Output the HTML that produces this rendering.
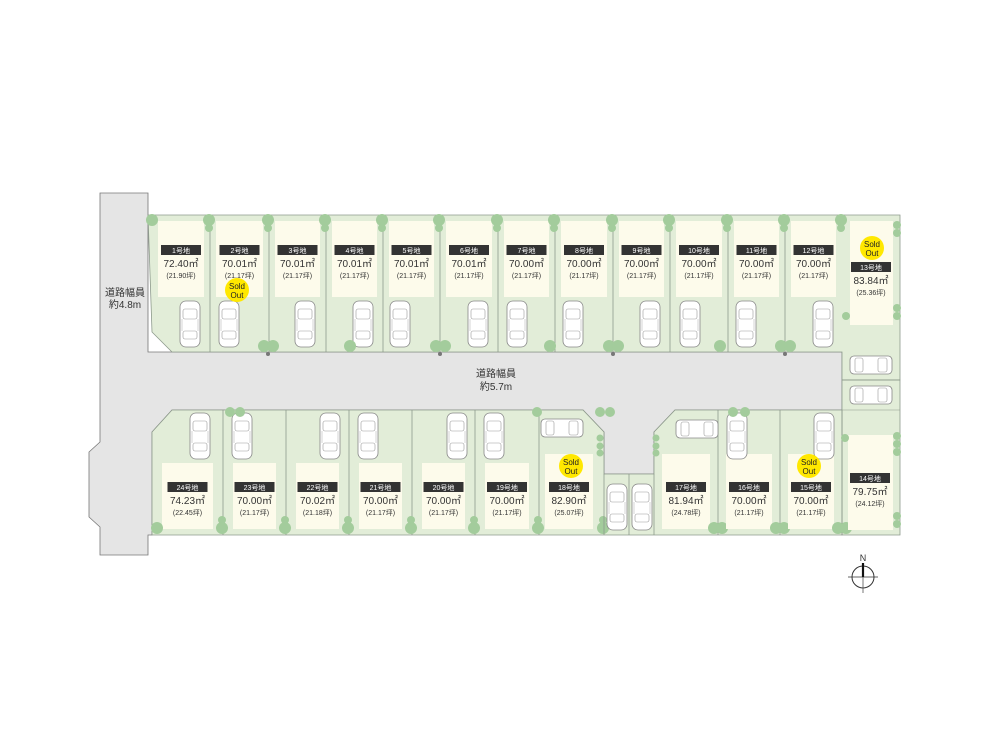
<!DOCTYPE html>
<html><head><meta charset="utf-8"><style>
html,body{margin:0;padding:0;background:#fff;width:1000px;height:750px;overflow:hidden}
svg text{font-family:"Liberation Sans","Noto Sans CJK JP",sans-serif}
</style></head><body>
<svg id="s" width="1000" height="750" viewBox="0 0 1000 750" xmlns="http://www.w3.org/2000/svg">
<defs>
<g id="carv">
<rect x="-10" y="0" width="20" height="46" rx="6" fill="#fff" stroke="#888" stroke-width="0.8"/>
<rect x="-7" y="8" width="14" height="10" rx="2" fill="#fff" stroke="#999" stroke-width="0.6"/>
<rect x="-7" y="30" width="14" height="8" rx="2" fill="#fff" stroke="#999" stroke-width="0.6"/>
<line x1="-8" y1="18" x2="-8" y2="30" stroke="#aaa" stroke-width="0.5"/>
<line x1="8" y1="18" x2="8" y2="30" stroke="#aaa" stroke-width="0.5"/>
</g>
<g id="carh">
<rect x="0" y="-9" width="42" height="18" rx="4" fill="#fff" stroke="#888" stroke-width="0.8"/>
<rect x="28" y="-7" width="9" height="14" rx="2" fill="#fff" stroke="#999" stroke-width="0.6"/>
<rect x="5" y="-7" width="8" height="14" rx="2" fill="#fff" stroke="#999" stroke-width="0.6"/>
</g>
</defs>
<!-- roads -->
<path d="M100,193 L148,193 L148,352 L842,352 L842,410 L675,410 L654,432 L654,474 L604,474 L604,432 L583,410 L172,410 L152,432 L152,535 L148,535 L148,555 L100,555 L100,527 L89,517 L89,452 L100,442 Z" fill="#e5e5e5" stroke="#777" stroke-width="0.8"/>
<!-- top lots area -->
<path d="M148,215 L900,215 L900,380 L842,380 L842,352 L172,352 L152,332 Z" fill="#e2edd8" stroke="#8d9a8c" stroke-width="0.8"/>
<!-- right column -->
<path d="M842,380 L900,380 L900,535 L842,535 Z" fill="#e2edd8" stroke="#8d9a8c" stroke-width="0.8"/>
<line x1="842" y1="410" x2="900" y2="410" stroke="#8d9a8c" stroke-width="0.6"/>
<!-- bottom lots -->
<path d="M172,410 L583,410 L604,432 L604,474 L654,474 L654,432 L675,410 L842,410 L842,535 L152,535 L152,432 Z" fill="#e2edd8" stroke="#8d9a8c" stroke-width="0.8"/>
<g id="dyn"></g>
<text x="125" y="296" font-size="10" text-anchor="middle" fill="#333">道路幅員</text>
<text x="125" y="308" font-size="10" text-anchor="middle" fill="#333">約4.8m</text>
<text x="496" y="377" font-size="10" text-anchor="middle" fill="#333">道路幅員</text>
<text x="496" y="390" font-size="10" text-anchor="middle" fill="#333">約5.7m</text>
<!-- compass -->
<text x="863" y="561" font-size="9" text-anchor="middle" fill="#333">N</text>
<circle cx="863" cy="577" r="11" fill="none" stroke="#333" stroke-width="1"/>
<line x1="848" y1="577" x2="878" y2="577" stroke="#333" stroke-width="0.8"/>
<line x1="863" y1="563" x2="863" y2="577" stroke="#111" stroke-width="2.2"/>
<line x1="863" y1="577" x2="863" y2="593" stroke="#555" stroke-width="0.8"/>
</svg>
<script>
const NS="http://www.w3.org/2000/svg",g=document.getElementById("dyn");
function el(t,a,txt){const e=document.createElementNS(NS,t);for(const k in a)e.setAttribute(k,a[k]);if(txt!=null)e.textContent=txt;g.appendChild(e);return e;}
function line(x1,y1,x2,y2){el("line",{x1,y1,x2,y2,stroke:"#8d9a8c","stroke-width":0.8});}
function tree(x,y,r){el("circle",{cx:x,cy:y,r:r||6,fill:"#a3cc9c"});}
function label(cx,y,n,a,t){
 el("rect",{x:cx-20,y:y,width:40,height:10,fill:"#333"});
 el("text",{x:cx,y:y+8,"font-size":7,"text-anchor":"middle",fill:"#fff"},n+"号地");
 el("text",{x:cx,y:y+22,"font-size":10,"text-anchor":"middle",fill:"#333"},a+"㎡");
 el("text",{x:cx,y:y+33,"font-size":7,"text-anchor":"middle",fill:"#333"},"("+t+"坪)");
}
function sold(x,y){el("circle",{cx:x,cy:y,r:12,fill:"#ffe800"});
 el("text",{x:x,y:y-1,"font-size":8,"text-anchor":"middle",fill:"#222","font-family":"Liberation Serif,serif"},"Sold");
 el("text",{x:x,y:y+8,"font-size":8,"text-anchor":"middle",fill:"#222","font-family":"Liberation Serif,serif"},"Out");}
// top row
const td=[152,210,269,326,383,440,498,555,613,670,728,785,842];
const ta=["72.40","70.01","70.01","70.01","70.01","70.01","70.00","70.00","70.00","70.00","70.00","70.00"];
const tt=["21.90","21.17","21.17","21.17","21.17","21.17","21.17","21.17","21.17","21.17","21.17","21.17"];
const tc=[190,229,305,363,400,478,517,573,650,690,746,823];
for(let i=1;i<12;i++)line(td[i],215,td[i],352);
for(let i=0;i<12;i++){const l=td[i]+(i==0?6:6),r=td[i+1]-6;
 el("rect",{x:l,y:221,width:r-l,height:76,fill:"#fdfbeb"});
 label((l+r)/2,245,i+1,ta[i],tt[i]);
 el("use",{href:"#carv",x:tc[i],y:301});
 tree(td[i+1]-1,220);tree(td[i+1]-1,228,4);}
tree(152,220);
[268,440,613,785].forEach(x=>{tree(x-4,346);tree(x+5,346);el("circle",{cx:x,cy:354,r:2,fill:"#777"});});
[350,550,720].forEach(x=>tree(x,346));
// lot 13
el("rect",{x:850,y:221,width:43,height:104,fill:"#fdfbeb"});
label(871,262,13,"83.84","25.36");
el("use",{href:"#carh",x:850,y:365});el("use",{href:"#carh",x:850,y:395});
line(842,380,900,380);
[225,233,308,316].forEach(y=>tree(897,y,4));tree(846,316,4);
// bottom row
const bd=[152,223,286,349,412,475,539,604];
const ba=["74.23","70.00","70.02","70.00","70.00","70.00","82.90"],bt=["22.45","21.17","21.18","21.17","21.17","21.17","25.07"],bn=[24,23,22,21,20,19,18];
const bc=[200,242,330,368,457,494];
for(let i=1;i<7;i++)line(bd[i],410,bd[i],535);
for(let i=0;i<7;i++){const l=bd[i]+10,r=bd[i+1]-10;
 if(i<6){el("rect",{x:l,y:463,width:r-l,height:66,fill:"#fdfbeb"});label((l+r)/2,482,bn[i],ba[i],bt[i]);el("use",{href:"#carv",x:bc[i],y:413});}
 tree(bd[i+1]-1,528);tree(bd[i+1]-1,520,4);}
tree(157,528);
el("rect",{x:545,y:454,width:48,height:75,fill:"#fdfbeb"});label(569,482,18,"82.90","25.07");
el("use",{href:"#carh",x:541,y:428});
line(604,474,604,535);line(629,474,629,535);line(654,474,654,535);
el("use",{href:"#carv",x:617,y:484});el("use",{href:"#carv",x:642,y:484});
// 17,16,15
const rd=[654,718,780,842],rn=[17,16,15],ra=["81.94","70.00","70.00"],rt=["24.78","21.17","21.17"];
for(let i=0;i<3;i++){line(rd[i+1],410,rd[i+1],535);const l=rd[i]+8,r=rd[i+1]-8;
 el("rect",{x:l,y:454,width:r-l,height:75,fill:"#fdfbeb"});label((l+r)/2,482,rn[i],ra[i],rt[i]);tree(rd[i+1]-4,528);tree(rd[i+1]+4,528);}
el("use",{href:"#carh",x:676,y:429});
el("use",{href:"#carv",x:737,y:413});el("use",{href:"#carv",x:824,y:413});
el("rect",{x:848,y:435,width:45,height:95,fill:"#fdfbeb"});label(870,473,14,"79.75","24.12");
[436,444,452,516,524].forEach(y=>tree(897,y,4));tree(845,438,4);
[600,610,230,240].forEach(x=>tree(x,412,5));tree(537,412,5);tree(733,412,5);tree(745,412,5);
[438,446,453].forEach(y=>{tree(600,y,3.5);tree(656,y,3.5);});
sold(237,290);sold(872,248);sold(571,466);sold(809,466);
</script>
</body></html>
